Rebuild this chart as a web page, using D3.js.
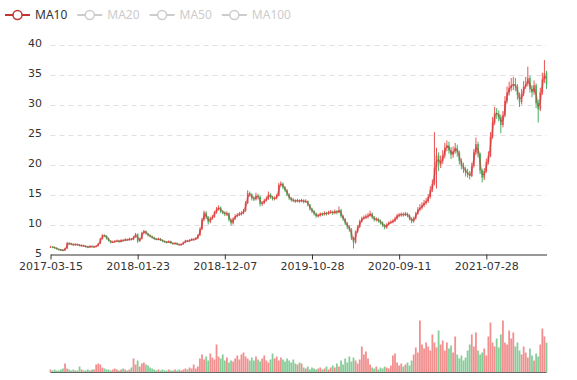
<!DOCTYPE html>
<html><head><meta charset="utf-8">
<script src="https://cdn.jsdelivr.net/npm/d3@7/dist/d3.min.js"></script>
<style>html,body{margin:0;padding:0;background:#fff}svg{display:block;font-family:"Noto Sans",sans-serif}</style>
</head><body><svg id="c" width="577" height="380"></svg>
<script>
// x-axis labels, one every 42 weekly candles (about 210 trading days)
const tickLabels = ["2017-03-15","2018-01-23","2018-12-07","2019-10-28","2020-09-11","2021-07-28"];
const tickEvery = 42;
const yTicks = [5,10,15,20,25,30,35,40];
const legendNames = ["MA10","MA20","MA50","MA100"];
const activeLegend = ["MA10"];

// weekly candles
const opens = [6.2,6.3,6.2,6.1,5.9,5.8,5.75,5.7,6.0,6.9,
6.8,6.7,6.6,6.7,6.6,6.5,6.5,6.4,6.3,6.2,
6.4,6.3,6.3,6.4,6.8,7.6,8.2,8.1,7.7,7.3,
7.0,7.1,7.2,7.3,7.1,7.4,7.3,7.5,7.4,7.6,
7.5,7.9,8.4,7.2,7.6,8.6,8.9,8.5,8.2,8.0,
7.8,7.6,7.5,7.6,7.4,7.2,7.1,7.0,7.2,6.9,
6.8,6.9,6.7,6.6,6.7,7.0,7.3,7.2,7.4,7.5,
7.5,7.7,8.2,9.2,10.8,12.0,11.2,10.4,11.0,11.3,
12.0,12.6,12.8,12.2,12.0,11.7,11.9,10.8,10.2,11.0,
11.4,11.6,11.8,11.9,12.3,13.6,15.2,15.0,14.4,14.2,
14.8,14.6,13.4,13.6,14.0,14.3,15.0,14.6,14.3,14.4,
14.8,16.6,16.8,16.2,15.7,15.0,14.4,14.1,14.0,13.9,
14.0,13.9,14.0,13.8,13.9,13.3,12.6,12.2,11.8,11.4,
11.5,11.8,11.7,11.9,11.8,12.0,12.1,11.9,12.2,12.0,
12.4,11.4,10.9,10.2,9.6,9.2,7.8,7.0,8.8,9.6,
10.5,11.0,11.2,11.3,11.5,11.8,11.2,10.8,10.9,10.6,
10.3,9.9,9.5,10.0,10.3,10.4,10.6,11.0,11.5,11.6,
11.7,11.6,11.8,11.5,11.0,10.5,11.0,11.8,12.5,12.8,
13.2,13.6,13.9,14.6,15.8,16.8,19.5,21.5,20.0,20.6,
21.5,22.8,23.2,22.4,21.6,22.2,22.8,22.0,20.6,19.8,
19.2,18.7,18.4,18.1,19.8,22.0,23.4,21.8,19.0,17.8,
18.9,20.4,21.4,24.6,27.0,28.6,28.4,27.9,26.6,28.2,
30.6,32.0,32.8,33.2,33.4,33.0,31.6,30.4,31.8,33.0,
33.4,34.4,32.6,32.0,33.2,30.2,29.2,32.0,34.2,35.2];
const closes = [6.3,6.2,6.1,5.9,5.8,5.75,5.7,6.0,6.9,6.8,
6.7,6.6,6.7,6.6,6.5,6.5,6.4,6.3,6.2,6.4,
6.3,6.3,6.4,6.8,7.6,8.2,8.1,7.7,7.3,7.0,
7.1,7.2,7.3,7.1,7.4,7.3,7.5,7.4,7.6,7.5,
7.9,8.4,7.2,7.6,8.6,8.9,8.5,8.2,8.0,7.8,
7.6,7.5,7.6,7.4,7.2,7.1,7.0,7.2,6.9,6.8,
6.9,6.7,6.6,6.7,7.0,7.3,7.2,7.4,7.5,7.5,
7.7,8.2,9.2,10.8,12.0,11.2,10.4,11.0,11.3,12.0,
12.6,12.8,12.2,12.0,11.7,11.9,10.8,10.2,11.0,11.4,
11.6,11.8,11.9,12.3,13.6,15.2,15.0,14.4,14.2,14.8,
14.6,13.4,13.6,14.0,14.3,15.0,14.6,14.3,14.4,14.8,
16.6,16.8,16.2,15.7,15.0,14.4,14.1,14.0,13.9,14.0,
13.9,14.0,13.8,13.9,13.3,12.6,12.2,11.8,11.4,11.5,
11.8,11.7,11.9,11.8,12.0,12.1,11.9,12.2,12.0,12.4,
11.4,10.9,10.2,9.6,9.2,7.8,7.0,8.8,9.6,10.5,
11.0,11.2,11.3,11.5,11.8,11.2,10.8,10.9,10.6,10.3,
9.9,9.5,10.0,10.3,10.4,10.6,11.0,11.5,11.6,11.7,
11.6,11.8,11.5,11.0,10.5,11.0,11.8,12.5,12.8,13.2,
13.6,13.9,14.6,15.8,16.8,19.5,21.5,20.0,20.6,21.5,
22.8,23.2,22.4,21.6,22.2,22.8,22.0,20.6,19.8,19.2,
18.7,18.4,18.1,19.8,22.0,23.4,21.8,19.0,17.8,18.9,
20.4,21.4,24.6,27.0,28.6,28.4,27.9,26.6,28.2,30.6,
32.0,32.8,33.2,33.4,33.0,31.6,30.4,31.8,33.0,33.4,
34.4,32.6,32.0,33.2,30.2,29.2,32.0,34.2,35.2,33.4];
const highs = [6.45,6.4,6.3,6.2,6.0,5.95,5.9,6.1,7.1,7.05,
6.95,6.85,6.85,6.8,6.75,6.65,6.6,6.55,6.45,6.55,
6.5,6.45,6.6,6.95,7.8,8.4,8.35,8.2,7.8,7.4,
7.3,7.4,7.5,7.45,7.55,7.55,7.7,7.65,7.8,7.75,
8.1,8.6,8.5,7.8,8.8,9.1,9.0,8.6,8.35,8.15,
7.95,7.75,7.8,7.75,7.5,7.35,7.25,7.35,7.3,7.0,
7.05,7.0,6.8,6.85,7.15,7.45,7.45,7.55,7.7,7.7,
7.9,8.4,9.5,11.1,12.3,12.2,11.4,11.3,11.6,12.3,
12.9,13.2,13.0,12.4,12.2,12.2,12.0,11.0,11.2,11.7,
11.9,12.1,12.2,12.6,13.9,15.7,15.5,15.2,14.7,15.3,
15.1,14.8,13.9,14.3,14.7,15.5,15.2,14.8,14.7,15.1,
16.9,17.2,17.0,16.4,15.9,15.2,14.6,14.4,14.2,14.3,
14.2,14.3,14.2,14.2,14.0,13.4,12.8,12.4,12.0,11.8,
12.0,12.0,12.2,12.1,12.3,12.4,12.3,12.5,12.4,13.0,
12.6,11.6,11.1,10.4,9.9,9.4,8.0,9.0,9.9,10.8,
11.3,11.5,11.7,11.9,12.3,12.0,11.4,11.2,11.1,10.8,
10.5,10.1,10.2,10.5,10.7,10.9,11.3,11.8,11.9,12.0,
12.0,12.1,12.0,11.7,11.2,11.3,12.1,12.9,13.4,13.7,
14.1,14.4,15.1,16.4,17.5,25.4,22.8,22.0,21.5,22.4,
23.6,24.0,23.8,22.9,23.0,23.6,23.3,22.3,21.0,20.3,
19.6,19.3,18.9,20.3,22.6,24.5,23.8,22.0,19.3,19.4,
21.0,22.2,25.4,27.9,29.6,29.4,29.0,28.3,28.9,31.4,
33.0,33.8,34.4,34.6,34.4,33.4,32.0,32.6,33.9,34.6,
36.3,34.8,33.2,34.0,33.5,30.8,32.8,35.3,37.4,35.6];
const lows = [6.1,6.05,5.95,5.8,5.65,5.6,5.55,5.6,5.95,6.6,
6.55,6.45,6.5,6.45,6.35,6.35,6.25,6.15,6.05,6.1,
6.15,6.15,6.2,6.35,6.75,7.5,7.9,7.5,7.15,6.85,
6.9,7.0,7.1,6.95,7.0,7.15,7.2,7.25,7.3,7.35,
7.4,7.8,6.9,7.1,7.5,8.4,8.3,8.0,7.85,7.65,
7.45,7.35,7.35,7.25,7.05,6.95,6.85,6.9,6.75,6.65,
6.65,6.55,6.45,6.5,6.65,6.9,7.05,7.1,7.3,7.35,
7.4,7.6,8.1,9.1,10.6,10.9,10.0,10.2,10.8,11.1,
11.8,12.3,11.9,11.7,11.4,11.4,10.5,9.8,10.0,10.8,
11.2,11.4,11.5,11.7,12.1,13.4,14.6,14.0,13.9,14.0,
14.2,13.0,13.1,13.4,13.8,14.1,14.3,14.0,14.0,14.2,
14.7,16.3,15.9,15.4,14.7,14.1,13.8,13.7,13.6,13.7,
13.6,13.7,13.5,13.6,13.0,12.3,11.9,11.5,11.1,11.2,
11.3,11.4,11.5,11.5,11.6,11.8,11.6,11.7,11.7,11.9,
11.1,10.6,9.9,9.2,8.8,7.4,6.0,6.8,8.6,9.4,
10.3,10.8,10.9,11.0,11.3,10.9,10.5,10.5,10.3,10.0,
9.6,9.2,9.3,9.8,10.1,10.2,10.4,10.8,11.2,11.3,
11.3,11.4,11.2,10.7,10.2,10.3,10.8,11.6,12.2,12.5,
12.9,13.3,13.6,14.3,15.4,16.5,16.0,18.9,19.4,20.1,
21.0,22.2,21.8,20.9,21.1,21.8,21.3,20.0,19.2,18.6,
18.0,17.8,17.5,17.9,19.5,21.6,21.2,18.4,17.0,17.4,
18.6,20.0,21.2,24.3,26.6,27.6,27.2,25.2,26.2,27.9,
30.2,31.5,32.2,32.4,32.2,30.8,29.6,30.0,31.4,32.6,
33.0,32.0,31.2,31.6,29.4,27.0,28.9,31.6,33.6,32.6];
// volume, relative units
const volumes = [3,2,3,2,2,3,4,9,
4,3,2,3,2,2,6,3,2,2,3,2,3,
3,8,9,8,5,4,3,
3,2,3,4,3,2,3,4,3,2,3,5,
14,8,12,6,9,10,8,7,5,
4,3,2,3,2,3,2,2,3,2,2,3,2,3,2,
3,4,3,5,4,8,4,6,
14,18,13,16,12,19,15,13,28,
16,14,18,12,15,10,12,11,14,
17,13,18,20,16,14,12,15,
12,16,13,11,14,17,12,10,13,
19,14,16,12,15,13,
11,14,12,10,13,9,8,10,9,
5,4,6,3,5,4,3,4,5,3,4,6,3,5,
7,5,9,6,12,8,14,10,16,11,15,12,9,
13,26,18,21,14,
8,5,4,6,3,5,4,6,5,4,
7,17,19,10,7,9,6,
8,10,7,12,18,
25,20,52,
28,24,30,26,22,
38,30,
25,42,28,32,22,30,24,27,20,36,
18,14,17,12,15,
22,28,38,26,40,
22,18,20,24,17,
36,50,30,26,34,
25,38,52,30,28,
42,34,40,26,30,22,
18,26,20,15,24,17,12,
19,16,28,44,36,30];

const UP = "#eb5454", DOWN = "#47b262", MA = "#c23531";
const AXIS_FONT = "DejaVu Sans, sans-serif";
const svg = d3.select("#c");
const n = closes.length;
const x = d3.scaleLinear().domain([0, n - 1]).range([50.5, 546.5]);
const y = d3.scaleLinear().domain([5, 40]).range([254.5, 44.5]);
const yv = d3.scaleLinear().domain([0, 60]).range([372.5, 312.5]);
const idx = d3.range(n);
const isUp = i => closes[i] >= opens[i];

// grid lines
svg.append("g").selectAll("line").data(yTicks.filter(t => t !== 5)).join("line")
  .attr("x1", x(0)).attr("x2", x(n - 1))
  .attr("y1", d => Math.round(y(d)) + 0.5).attr("y2", d => Math.round(y(d)) + 0.5)
  .attr("stroke", "#e0e0e0").attr("stroke-dasharray", "5,4");

// y labels
svg.append("g").selectAll("text").data(yTicks).join("text")
  .attr("x", 42).attr("y", d => y(d) - 1).attr("dy", "0.35em")
  .attr("text-anchor", "end").attr("font-size", 11).attr("font-family", AXIS_FONT)
  .attr("fill", "#333").text(d => d);

// x axis
const xa = svg.append("g").attr("transform", "translate(0,254.5)")
  .call(d3.axisBottom(x).tickValues(tickLabels.map((d, i) => i * tickEvery))
    .tickFormat((d, i) => tickLabels[i]).tickSize(5).tickSizeOuter(0).tickPadding(3));
xa.select(".domain").attr("stroke", "#333");
xa.selectAll(".tick line").attr("stroke", "#333");
xa.selectAll(".tick text").attr("fill", "#333").attr("font-size", 11).attr("font-family", AXIS_FONT);

// candles
const cg = svg.append("g");
cg.selectAll("line").data(idx).join("line")
  .attr("x1", i => x(i)).attr("x2", i => x(i))
  .attr("y1", i => y(highs[i])).attr("y2", i => y(lows[i]))
  .attr("stroke", i => isUp(i) ? UP : DOWN).attr("stroke-width", 1);
cg.selectAll("rect").data(idx).join("rect")
  .attr("x", i => x(i) - 0.8).attr("width", 1.6)
  .attr("y", i => y(Math.max(opens[i], closes[i])))
  .attr("height", i => Math.max(1, Math.abs(y(opens[i]) - y(closes[i]))))
  .attr("fill", i => isUp(i) ? UP : DOWN);

// MA10 (10 trading days = 2 weekly candles)
const ma = idx.slice(1).map(i => ({ i, v: (closes[i] + closes[i - 1]) / 2 }));
svg.append("path").datum(ma)
  .attr("d", d3.line().x(d => x(d.i)).y(d => y(d.v)).curve(d3.curveMonotoneX))
  .attr("fill", "none").attr("stroke", MA).attr("stroke-width", 1.5).attr("stroke-opacity", 0.55);

// volume
svg.append("g").selectAll("rect").data(idx).join("rect")
  .attr("x", i => x(i) - 0.9).attr("width", 1.8)
  .attr("y", i => yv(volumes[i])).attr("height", i => yv(0) - yv(volumes[i]))
  .attr("fill", i => isUp(i) ? UP : DOWN).attr("fill-opacity", 0.65);
svg.append("line").attr("x1", x(0)).attr("x2", x(n - 1))
  .attr("y1", yv(0)).attr("y2", yv(0)).attr("stroke", "#666");

// legend
let lx = 5;
legendNames.forEach(name => {
  const on = activeLegend.includes(name);
  const col = on ? MA : "#ccc";
  const g = svg.append("g").attr("transform", `translate(${lx},15)`);
  g.append("line").attr("x1", 0).attr("x2", 25).attr("stroke", col).attr("stroke-width", 2);
  g.append("circle").attr("cx", 12.5).attr("r", 4.5).attr("fill", "#fff").attr("stroke", col).attr("stroke-width", 1.5);
  const t = g.append("text").attr("x", 30).attr("dy", "0.35em").attr("font-size", 12)
    .attr("fill", on ? "#333" : "#ccc").text(name);
  lx += 30 + t.node().getComputedTextLength() + 10;
});
</script></body></html>
